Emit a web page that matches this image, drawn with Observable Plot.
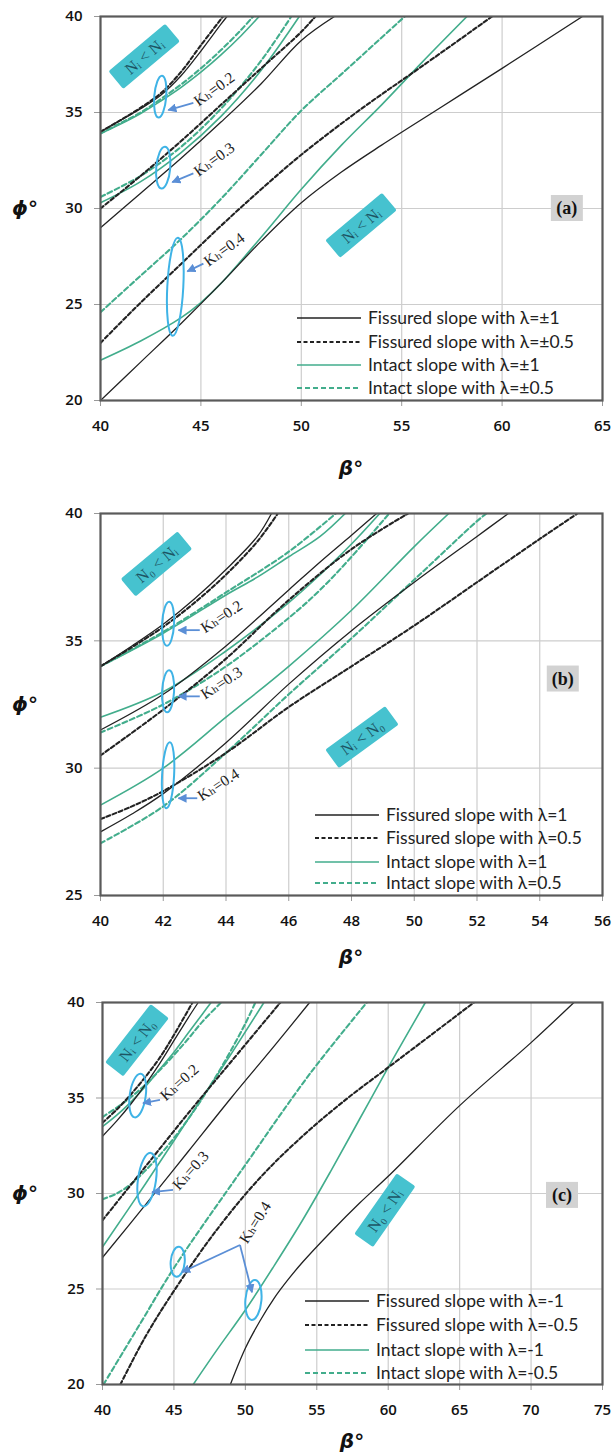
<!DOCTYPE html>
<html><head><meta charset="utf-8">
<script src="https://cdn.jsdelivr.net/npm/d3@7"></script>
<script src="https://cdn.jsdelivr.net/npm/@observablehq/plot@0.6"></script>
<style>
body{margin:0;background:#fff;width:613px;overflow:hidden;}
#wrap{width:613px;height:1455px;}
svg{display:block;}
</style></head><body><div id="wrap"></div>
<script>
// ---------- Panel (a): beta 40-65, phi 20-40 ----------
const aXTicks = [40,45,50,55,60,65];
const aYTicks = [20,25,30,35,40];
const a_fs02 = [[40,34],[41,34.6],[42,35.2],[43,35.9],[44,36.9],[45,38.2],[46,39.6],[46.3,40]];
const a_fd02 = [[40,34],[41,34.6],[42,35.25],[43,36.0],[44,37.1],[45,38.5],[46.1,40]];
const a_is02 = [[40,33.9],[41,34.4],[42,34.95],[43,35.6],[44,36.3],[45,37.1],[46,38.0],[47,39.0],[47.9,40]];
const a_id02 = [[40,33.9],[41,34.45],[42,35.0],[43,35.7],[44,36.45],[45,37.3],[46,38.25],[47,39.3],[47.6,40]];
const a_fs03 = [[40,29],[42,30.8],[44,32.6],[46,34.5],[48,36.5],[50,38.75],[51.65,40]];
const a_fd03 = [[40,30],[42,31.7],[44,33.5],[46,35.4],[48,37.3],[50,39.2],[50.7,40]];
const a_is03 = [[40,30.3],[42,31.4],[44,32.9],[46,34.8],[48,37.2],[49.9,40]];
const a_id03 = [[40,30.6],[42,31.7],[44,33.2],[46,35.2],[48,37.7],[49.5,40]];
const a_fs04 = [[40,20],[42,22],[44,24],[46,26.1],[48,28.3],[50,30.3],[52,31.9],[54,33.3],[57,35.3],[60,37.3],[64,40]];
const a_fd04 = [[40,23],[42,25.1],[44,27.1],[46,29.1],[48,31.0],[50,32.8],[53,35.2],[56,37.4],[59.5,40]];
const a_is04 = [[40,22.1],[42,23.1],[44,24.3],[45,25.1],[46,26.1],[48,28.5],[50,31.0],[52,33.3],[54,35.4],[56,37.6],[58.25,40]];
const a_id04 = [[40,24.6],[42,26.5],[44,28.4],[46,30.5],[48,32.8],[50,35.1],[52,37],[55.15,40]];
const aLegend = ["Fissured slope with λ=±1","Fissured slope with λ=±0.5","Intact slope with λ=±1","Intact slope with λ=±0.5"];

// ---------- Panel (b): beta 40-56, phi 25-40 ----------
const bXTicks = [40,42,44,46,48,50,52,54,56];
const bYTicks = [25,30,35,40];
const b_fs02 = [[40,34],[41,34.8],[42,35.65],[43,36.65],[44,37.8],[45,39.1],[45.45,40]];
const b_fd02 = [[40,34],[41,34.75],[42,35.55],[43,36.5],[44,37.6],[45,38.9],[45.65,40]];
const b_is02 = [[40,34],[42,35.3],[44,36.8],[45,37.5],[46,38.3],[47,39.1],[47.8,40]];
const b_id02 = [[40,34],[42,35.35],[44,36.9],[46,38.5],[47.5,40]];
const b_fs03 = [[40,31.5],[42,32.9],[44,34.8],[46,37.0],[47,38.1],[48,39.15],[48.8,40]];
const b_fd03 = [[40,30.5],[42,32.3],[44,34.3],[46,36.6],[48,38.6],[49.8,40]];
const b_is03 = [[40,32],[42,33.0],[44,34.6],[46,36.5],[47,37.6],[48,38.8],[48.9,40]];
const b_id03 = [[40,31.4],[42,32.5],[44,34.0],[46,35.9],[47,37.0],[48,38.3],[49.2,40]];
const b_fs04 = [[40,27.5],[41,28.2],[42,29.0],[44,31.0],[46,33.3],[48,35.4],[50,37.3],[52,39.1],[53,40]];
const b_fd04 = [[40,28],[41,28.5],[42,29.1],[44,30.6],[46,32.4],[48,34.0],[50,35.6],[52,37.3],[54,39.0],[55.2,40]];
const b_is04 = [[40,28.55],[42,30.0],[44,32.0],[46,34.0],[48,36.2],[50,38.7],[51.1,40]];
const b_id04 = [[40,27.05],[42,28.5],[44,30.6],[46,32.9],[48,35.1],[50,37.4],[52,39.7],[52.3,40]];
const bLegend = ["Fissured slope with λ=1","Fissured slope with λ=0.5","Intact slope with λ=1","Intact slope with λ=0.5"];

// ---------- Panel (c): beta 40-75, phi 20-40 ----------
const cXTicks = [40,45,50,55,60,65,70,75];
const cYTicks = [20,25,30,35,40];
const c_fs02 = [[40,33.0],[41,33.8],[42,34.7],[43,35.7],[44,36.8],[45,38.0],[46,39.2],[46.7,40]];
const c_fd02 = [[40,33.7],[41,34.4],[42,35.2],[43,36.1],[44,37.1],[45,38.3],[46.3,40]];
const c_is02 = [[40,33.5],[41,34.1],[42,34.8],[43,35.6],[44,36.5],[45,37.4],[46,38.4],[47,39.4],[47.6,40]];
const c_id02 = [[40,34],[41,34.5],[42,35.05],[43,35.7],[44,36.45],[45,37.25],[46,38.1],[47,39.0],[48.3,40]];
const c_fs03 = [[40,26.65],[43,29.4],[46,32.2],[49,35.0],[52,37.7],[54.5,40]];
const c_fd03 = [[40,28.6],[43,31.4],[46,34.2],[49,36.9],[52.45,40]];
const c_is03 = [[40,27.2],[43,30.5],[46,33.9],[49,37.3],[51.3,40]];
const c_id03 = [[40,29.7],[41,30.0],[42,30.5],[43,31.2],[44,32.0],[45,32.9],[46,33.9],[47,35.0],[48,36.2],[49,37.5],[50,38.9],[50.7,40]];
const c_fs04 = [[48.95,20],[50,21.9],[51,23.3],[52,24.5],[53,25.5],[54,26.4],[56,28.0],[58,29.5],[60,30.9],[65,34.6],[70,37.9],[73,40]];
const c_fd04 = [[41.25,20],[43,22.5],[45,24.9],[48,28.1],[51,30.8],[54,33.0],[57,34.9],[60,36.6],[63,38.3],[66,40]];
const c_is04 = [[46.35,20],[48,21.8],[50,23.9],[52,26.2],[54,28.6],[56,31.2],[58,33.9],[60,36.6],[62.6,40]];
const c_id04 = [[40.07,20],[42.65,23.2],[45,26.1],[50,31.5],[54.55,36.3],[58.5,40]];
const cLegend = ["Fissured slope with λ=-1","Fissured slope with λ=-0.5","Intact slope with λ=-1","Intact slope with λ=-0.5"];

// ---------- Annotations (data coordinates) ----------
const aNotes = {
  tag:"(a)", tagAt:[63.25,30],
  boxes:[{at:[42.2,37.9],angle:-40,text:"Nᵢ < Nᵢ"},{at:[53,29.1],angle:-40,text:"Nᵢ < Nᵢ"}],
  ellipses:[{at:[43,35.8],rx:6,ry:21,rot:5},{at:[43.15,32.1],rx:7,ry:21,rot:5},{at:[43.75,25.9],rx:8,ry:49,rot:3}],
  arrows:[[[44.65,35.47],[43.4,35.1]],[[44.65,31.8],[43.6,31.35]],[[45.15,27.1],[44.35,26.7]]],
  labels:[{at:[44.75,35.5],angle:-36,text:"Kₕ=0.2"},{at:[44.75,31.85],angle:-36,text:"Kₕ=0.3"},{at:[45.25,27.15],angle:-36,text:"Kₕ=0.4"}]
};
const bNotes = {
  tag:"(b)", tagAt:[54.75,33.5],
  boxes:[{at:[41.8,38.0],angle:-40,text:"N₀ < Nᵢ"},{at:[48.35,31.2],angle:-36,text:"Nᵢ < N₀"}],
  ellipses:[{at:[42.17,35.65],rx:6,ry:22,rot:3},{at:[42.17,33.0],rx:6,ry:21,rot:3},{at:[42.17,29.7],rx:6,ry:33,rot:3}],
  arrows:[[[43.18,35.4],[42.5,35.4]],[[43.18,32.8],[42.5,32.8]],[[43.1,28.8],[42.5,28.8]]],
  labels:[{at:[43.25,35.45],angle:-33,text:"Kₕ=0.2"},{at:[43.25,32.85],angle:-33,text:"Kₕ=0.3"},{at:[43.15,28.85],angle:-33,text:"Kₕ=0.4"}]
};
const cNotes = {
  tag:"(c)", tagAt:[72.2,29.9],
  boxes:[{at:[42.45,38.0],angle:-52,text:"Nᵢ < N₀"},{at:[59.8,29.1],angle:-55,text:"N₀ < Nᵢ"}],
  ellipses:[{at:[42.5,35.1],rx:8,ry:22,rot:8},{at:[43.15,30.7],rx:9,ry:27,rot:8},{at:[45.3,26.4],rx:7,ry:15,rot:5},{at:[50.6,24.4],rx:8,ry:20,rot:5}],
  arrows:[[[44.06,34.87],[42.87,34.71]],[[44.97,30.16],[43.5,30.05]],[[49.66,27.28],[45.6,25.86]],[[49.66,27.28],[50.5,24.8]]],
  labels:[{at:[44.2,35.0],angle:-42,text:"Kₕ=0.2"},{at:[45.1,30.3],angle:-48,text:"Kₕ=0.3"},{at:[49.85,27.45],angle:-58,text:"Kₕ=0.4"}]
};

// ---------- Styles ----------
const BLACK = "#222", GREEN = "#42ad8c";
const KINDS = {
  fs:{stroke:BLACK, strokeWidth:1.3, dash:null},
  fd:{stroke:BLACK, strokeWidth:2.1, dash:"4,2.5"},
  is:{stroke:GREEN, strokeWidth:1.6, dash:null},
  id:{stroke:GREEN, strokeWidth:2.1, dash:"5,3"}
};

const panels = [
  {key:"a", height:490, mt:16, mb:90, ml:100, mr:11, xd:[40,65], yd:[20,40], xt:aXTicks, yt:aYTicks,
   series:{fs:[a_fs02,a_fs03,a_fs04], fd:[a_fd02,a_fd03,a_fd04], is:[a_is02,a_is03,a_is04], id:[a_id02,a_id03,a_id04]},
   legend:aLegend, legX:297, legY:[318,342,365,388], notes:aNotes, xlabelY:475},
  {key:"b", height:490, mt:23, mb:85, ml:100, mr:11, xd:[40,56], yd:[25,40], xt:bXTicks, yt:bYTicks,
   series:{fs:[b_fs02,b_fs03,b_fs04], fd:[b_fd02,b_fd03,b_fd04], is:[b_is02,b_is03,b_is04], id:[b_id02,b_id03,b_id04]},
   legend:bLegend, legX:315, legY:[325,348,372,393], notes:bNotes, xlabelY:474},
  {key:"c", height:475, mt:22, mb:71, ml:102, mr:11, xd:[40,75], yd:[20,40], xt:cXTicks, yt:cYTicks,
   series:{fs:[c_fs02,c_fs03,c_fs04], fd:[c_fd02,c_fd03,c_fd04], is:[c_is02,c_is03,c_is04], id:[c_id02,c_id03,c_id04]},
   legend:cLegend, legX:305, legY:[321,345,370,393], notes:cNotes, xlabelY:468}
];

const wrap = document.getElementById("wrap");

for (const p of panels) {
  const rows = [];
  for (const kind of Object.keys(p.series)) {
    p.series[kind].forEach((pts, i) => {
      for (const [x, y] of pts) rows.push({kind, id: kind + i, x, y});
    });
  }
  const lineMarks = ["is","id","fs","fd"].map(kind => Plot.line(rows.filter(d => d.kind === kind), {
    x:"x", y:"y", z:"id", stroke:KINDS[kind].stroke, strokeWidth:KINDS[kind].strokeWidth,
    strokeDasharray:KINDS[kind].dash, curve:"catmull-rom", clip:true
  }));
  const chart = Plot.plot({
    width:613, height:p.height,
    marginTop:p.mt, marginBottom:p.mb, marginLeft:p.ml, marginRight:p.mr,
    style:{fontFamily:"'Open Sans', Lato, sans-serif", fontSize:"15px", color:"#111", background:"#fff"},
    x:{domain:p.xd}, y:{domain:p.yd},
    marks:[
      Plot.gridX(p.xt, {stroke:"#cdcdcd", strokeOpacity:1, strokeWidth:1.2}),
      Plot.gridY(p.yt, {stroke:"#cdcdcd", strokeOpacity:1, strokeWidth:1.2}),
      Plot.axisX(p.xt, {tickSize:6, tickPadding:14, stroke:"#999", label:null, fontSize:15, fontWeight:600, fill:"#111"}),
      Plot.axisY(p.yt, {tickSize:6, tickPadding:12, stroke:"#999", label:null, fontSize:15, fontWeight:600, fill:"#111"}),
      ...lineMarks,
      Plot.frame({stroke:"#5a5a5a", strokeWidth:2.2})
    ]
  });
  wrap.appendChild(chart);

  const sx = chart.scale("x"), sy = chart.scale("y");
  const X = v => sx.apply(v), Y = v => sy.apply(v);
  const svg = d3.select(chart);
  const n = p.notes;

  const defs = svg.append("defs");
  defs.append("marker").attr("id","arr-"+p.key).attr("viewBox","0 0 10 10").attr("refX",9).attr("refY",5)
    .attr("markerWidth",5).attr("markerHeight",5).attr("orient","auto-start-reverse")
    .append("path").attr("d","M0,0 L10,5 L0,10 z").attr("fill","#5b8fd6");

  const g = svg.append("g").attr("text-anchor","start");
  for (const b of n.boxes) {
    const gg = g.append("g").attr("transform",`translate(${X(b.at[0])},${Y(b.at[1])}) rotate(${b.angle})`);
    gg.append("rect").attr("x",-37).attr("y",-11.5).attr("width",74).attr("height",23).attr("rx",2).attr("fill","#46c2cf");
    gg.append("text").attr("text-anchor","middle").attr("dy","0.35em").attr("font-family","'Liberation Serif','DejaVu Serif',serif")
      .attr("font-size",16).attr("fill","#1d5564").text(b.text);
  }
  for (const e of n.ellipses) {
    g.append("ellipse").attr("transform",`translate(${X(e.at[0])},${Y(e.at[1])}) rotate(${e.rot})`)
      .attr("rx",e.rx).attr("ry",e.ry).attr("fill","none").attr("stroke","#3fb3e6").attr("stroke-width",2);
  }
  for (const a of n.arrows) {
    g.append("line").attr("x1",X(a[0][0])).attr("y1",Y(a[0][1])).attr("x2",X(a[1][0])).attr("y2",Y(a[1][1]))
      .attr("stroke","#5b8fd6").attr("stroke-width",1.8).attr("marker-end",`url(#arr-${p.key})`);
  }
  for (const l of n.labels) {
    g.append("text").attr("transform",`translate(${X(l.at[0])},${Y(l.at[1])}) rotate(${l.angle})`)
      .attr("text-anchor","start")
      .attr("font-family","'Liberation Serif','DejaVu Serif',serif").attr("font-size",15.5).attr("fill","#222")
      .attr("dy","0.35em").text(l.text);
  }
  const tx = X(n.tagAt[0]), ty = Y(n.tagAt[1]);
  g.append("rect").attr("x",tx-16).attr("y",ty-13).attr("width",32).attr("height",26).attr("fill","#d2d2d2");
  g.append("text").attr("x",tx).attr("y",ty).attr("dy","0.35em").attr("text-anchor","middle")
    .attr("font-family","'Liberation Serif',serif").attr("font-weight","bold").attr("font-size",18).attr("fill","#111").text(n.tag);

  const kinds = ["fs","fd","is","id"];
  p.legend.forEach((txt, i) => {
    const k = KINDS[kinds[i]];
    const yy = p.legY[i];
    g.append("line").attr("x1",p.legX).attr("x2",p.legX+64).attr("y1",yy).attr("y2",yy)
      .attr("stroke",k.stroke).attr("stroke-width",k.strokeWidth).attr("stroke-dasharray",k.dash);
    g.append("text").attr("x",p.legX+71).attr("y",yy).attr("dy","0.35em").attr("text-anchor","start")
      .attr("font-family","Lato, 'Open Sans', sans-serif").attr("font-size",17.5).attr("fill","#222").text(txt);
  });

  const midY = (p.mt + (p.height - p.mb)) / 2;
  g.append("text").attr("x",25).attr("y",midY).attr("dy","0.35em").attr("text-anchor","middle")
    .attr("font-family","'DejaVu Sans',sans-serif").attr("font-weight","bold").attr("font-style","italic")
    .attr("font-size",20).attr("fill","#111").text("ϕ°");
  g.append("text").attr("x",(p.ml + 613 - p.mr)/2).attr("y",p.xlabelY).attr("text-anchor","middle")
    .attr("font-family","'DejaVu Sans',sans-serif").attr("font-weight","bold").attr("font-style","italic")
    .attr("font-size",20).attr("fill","#111").text("β°");
}
</script></body></html>
